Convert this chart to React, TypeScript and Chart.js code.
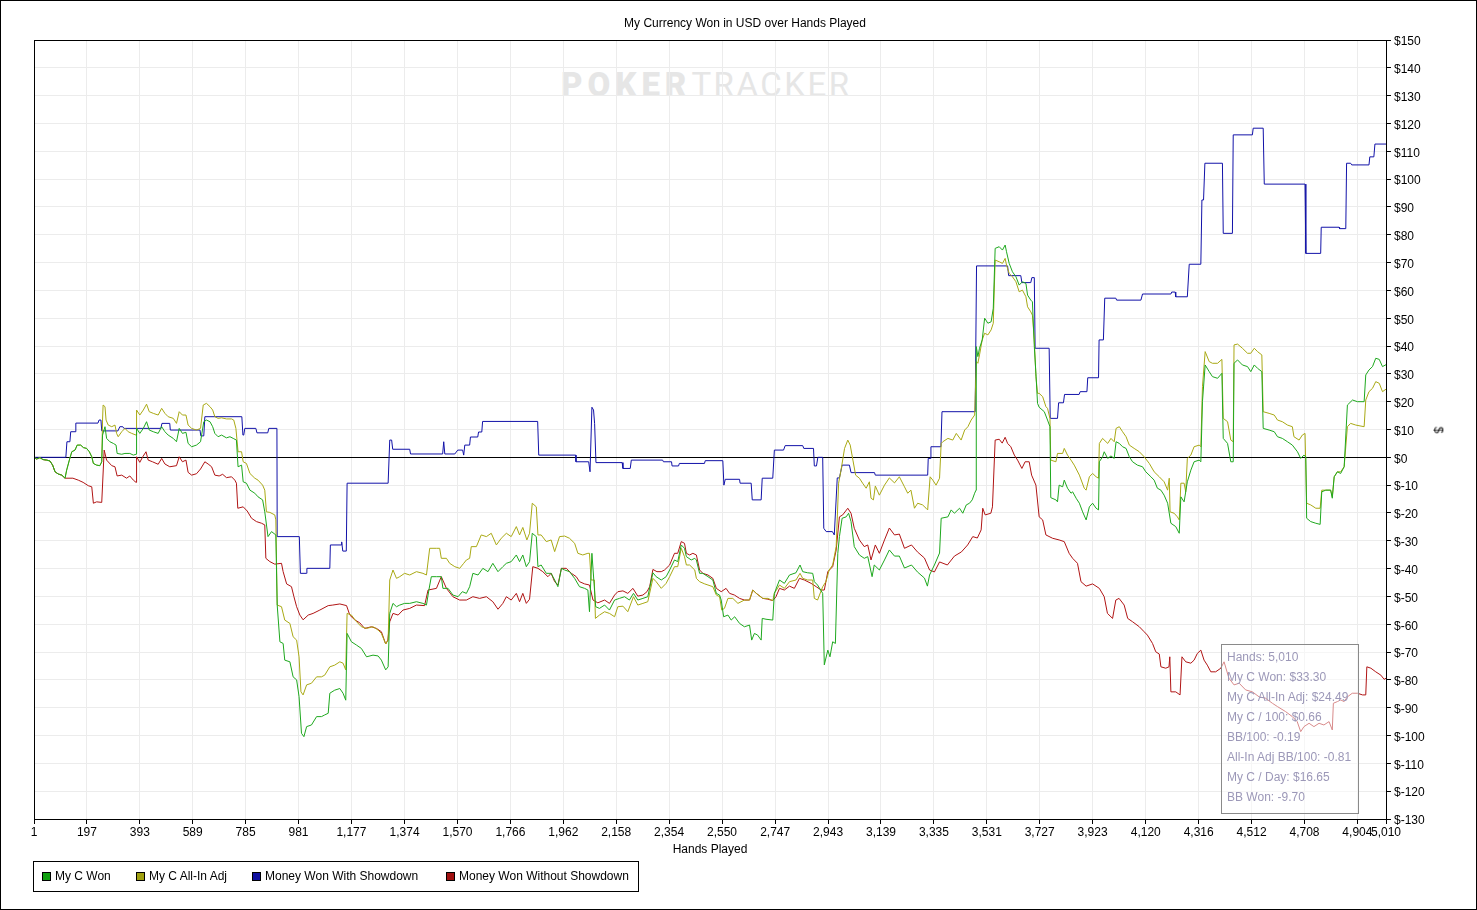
import { useEffect, useRef } from "react"
import { Chart, registerables } from "chart.js"

Chart.register(...registerables)

// hand numbers shown on the x axis
const handTicks = [1, 197, 393, 589, 785, 981, 1177, 1374, 1570, 1766, 1962, 2158, 2354, 2550, 2747, 2943, 3139, 3335, 3531, 3727, 3923, 4120, 4316, 4512, 4708, 4904, 5010]
const dollarMin = -130
const dollarMax = 150
const dollarStep = 10

// [hand, dollars]
const myCWon: [number, number][] = [
  [1, 0], [11, -0.6], [23, -0.1], [34, -0.8], [48, -1], [60, -1.3], [70, -2.8], [79, -5.2], [91, -6], [104, -6.4], [116, -7.5], [122, -4.6], [132, -1], [141, 2], [153, 2.6], [161, 4.4], [174, 4.4], [184, 3.5], [196, 3.2], [206, 2], [215, 0.2], [221, -2.2], [233, -2.8], [245, -3], [252, -1.6],
  [255, 8], [264, 11], [270, 6.8], [282, 5.6], [295, 5], [305, 4.4], [309, 1.4], [326, 1.1], [338, 1.4], [356, 1.4], [369, 0.8], [379, 1.1], [381, 10.4], [393, 8.6], [406, 10.4], [418, 12.8], [428, 9.8], [443, 9.2], [461, 8.6], [474, 11], [486, 9.2], [498, 8], [517, 6.8], [529, 5.6], [539, 10.4], [551, 8.6], [564, 9], [572, 5], [585, 3.8], [603, 4.4], [618, 5.6], [630, 12.8], [640, 13.4], [653, 12.8], [663, 11], [671, 8.6], [683, 7.4], [696, 8], [714, 7], [727, 7.4], [739, 6.8], [751, 6.2],
  [757, -3.4], [770, -2.8], [776, -8.8], [788, -9.3], [801, -11.8], [819, -12.9], [831, -14.2], [848, -15.3], [856, -19.6], [868, -28.5], [881, -26.7], [897, -27.9], [902, -53.1], [912, -66.3], [924, -66.9], [930, -72.9], [949, -73.5], [961, -78.9], [974, -80], [983, -86], [992, -99.2], [1001, -100.4], [1011, -96.8], [1029, -96.2], [1048, -93.2], [1066, -93.2], [1078, -92.6], [1091, -92], [1097, -84.8], [1115, -83.7], [1134, -83.1], [1146, -84.8], [1156, -87.3],
  [1161, -63.3], [1177, -66.3], [1196, -67.5], [1214, -68.7], [1233, -71.7], [1257, -71.1], [1276, -71.4], [1288, -72.9], [1304, -76.4], [1313, -75.3], [1319, -56.1], [1331, -52.5], [1344, -53.7], [1356, -53.1], [1374, -52.5], [1393, -52.5], [1418, -51.9], [1442, -52.5], [1455, -53.1], [1464, -47.7], [1473, -42.9], [1492, -42.9], [1510, -42.9], [1516, -47.1], [1535, -47.1], [1553, -49.5], [1572, -50.1], [1588, -48.3], [1603, -48.9], [1615, -46.5], [1627, -41.7], [1646, -42.3], [1664, -39.9], [1683, -41.1], [1701, -38.1], [1720, -41.1], [1738, -39.3], [1751, -38.1], [1769, -37.5], [1788, -35.1], [1800, -37.5], [1812, -35.1], [1825, -39.3], [1837, -37.5], [1847, -27.3], [1862, -28.5], [1868, -39.3], [1880, -38.7], [1899, -41.7], [1917, -41.7], [1930, -44.1], [1942, -46.5], [1955, -39.9], [1967, -40.5], [1985, -41.1], [2004, -43.5], [2022, -46.5], [2041, -47.1], [2053, -47.7],
  [2059, -55.5], [2068, -34.5], [2082, -53.7], [2096, -54.3], [2115, -53.1], [2133, -54.9], [2152, -51.3], [2170, -50.7], [2189, -50.1], [2207, -51.3], [2222, -48.9], [2238, -51.3], [2257, -50.7], [2275, -50.1], [2294, -41.5], [2306, -42.9], [2325, -44.1], [2343, -42.9], [2356, -40.5], [2374, -36.9], [2386, -37.5], [2399, -31.5], [2411, -32.7], [2418, -35.7], [2436, -36.9], [2449, -36.3], [2455, -36.9], [2467, -41.7], [2479, -41.7], [2498, -42.9], [2516, -44.1], [2529, -48.9], [2541, -49.5], [2547, -51.3], [2556, -57.3], [2572, -56.7], [2584, -58.5], [2597, -57.3], [2615, -59.7], [2633, -60.9], [2652, -60.3], [2660, -65.7], [2670, -63.3], [2682, -63.9], [2695, -65.7], [2699, -57.9], [2713, -58.2], [2738, -58.5], [2744, -48.9], [2763, -44.1], [2781, -45.3], [2800, -42.3], [2824, -41.5], [2839, -38.7], [2849, -41.1], [2867, -41.5], [2886, -41.7], [2892, -44.7], [2904, -45.9], [2923, -48.9],
  [2929, -74.6], [2942, -69.3], [2950, -71.7], [2960, -66.3], [2970, -66.9], [2979, -34.5], [2985, -28.5], [2995, -21.9], [3010, -21.4], [3019, -20.1], [3028, -23.1], [3040, -32.1], [3059, -35.1], [3077, -36.3], [3090, -35.7], [3106, -42.9], [3114, -38.7], [3133, -40.5], [3152, -36.9], [3170, -33.3], [3189, -35.5], [3207, -35.5], [3226, -39.8], [3252, -38.7], [3274, -41.2], [3300, -43.4], [3311, -46.3], [3319, -42.3], [3337, -38.7], [3356, -34.4], [3362, -21.9], [3387, -21.4], [3399, -18.9], [3411, -20.1], [3430, -18.3], [3442, -20.1], [3455, -17.1], [3467, -16.5], [3477, -15.3], [3486, -12.9], [3491, -11.8],
  [3492, 39.8], [3498, 36.2], [3504, 39.2], [3514, 42.2], [3523, 50], [3535, 48.2], [3547, 48.7], [3555, 53.6], [3562, 75.1], [3577, 75.7], [3589, 74.5], [3599, 76.3], [3604, 73.9], [3614, 69.7], [3626, 66.7], [3639, 64.9], [3651, 61.9], [3663, 63.1], [3676, 62.5], [3682, 58.3], [3694, 56.5], [3700, 55.9], [3707, 39.8], [3713, 30.2], [3719, 19.4], [3725, 18], [3744, 16.4], [3756, 13.4], [3765, 11], [3768, -14.5], [3787, -15.3], [3793, -16], [3799, -10], [3812, -10.6], [3818, -8.2], [3830, -11.1], [3843, -12.9], [3849, -12.4], [3862, -14.7], [3874, -16.5], [3886, -19.6], [3899, -22.5], [3911, -17.8], [3923, -16.5], [3936, -18.3], [3945, -18.9],
  [3948, -1.6], [3960, 0.2], [3966, 2], [3979, -0.4], [3991, 0.5], [4003, -0.4], [4010, 5.6], [4022, 5], [4034, 3.8], [4047, 3.2], [4059, 0.2], [4071, -1.6], [4089, -2.8], [4108, -3.4], [4120, -5.2], [4139, -7], [4151, -8.2], [4163, -11.1], [4176, -11.8], [4188, -13.6], [4201, -16.5], [4213, -23.7], [4231, -24.9], [4244, -27.3], [4250, -14.2], [4262, -16], [4274, -8.8], [4287, -4.6], [4299, -1.6], [4318, -1], [4324, -1.6], [4330, 20], [4340, 33.2], [4355, 30.8], [4367, 29], [4386, 28.4], [4402, 30.2], [4407, 6.8], [4423, 5], [4435, -1.6], [4444, -1.6], [4447, 33.8], [4460, 35], [4478, 33.2], [4497, 32.6], [4509, 30.8], [4522, 33.2], [4534, 32], [4550, 30.8],
  [4555, 10.4], [4577, 9.8], [4596, 9.2], [4608, 7.4], [4626, 6.8], [4645, 5.6], [4663, 4.4], [4682, 2], [4694, -0.4], [4706, 0.8], [4713, 0.2], [4716, -21.9], [4731, -23.1], [4750, -23.7], [4766, -24.1], [4772, -12.4], [4787, -11.8], [4805, -11.8], [4811, -14.7], [4818, -7], [4830, -5.2], [4842, -5.8], [4855, -3.4], [4867, 18.8], [4886, 20.6], [4904, 20], [4929, 20], [4935, 29.6], [4947, 31.4], [4960, 32.6], [4972, 35.6], [4985, 35.2], [4997, 32.6], [5010, 33.3],
]

const myCAllInAdj: [number, number][] = [
  [1, 0], [11, -0.6], [23, -0.1], [34, -0.8], [48, -1], [60, -1.3], [70, -2.8], [79, -5.2], [91, -6], [104, -6.4], [116, -7.5], [122, -4.6], [132, -1], [141, 2], [153, 2.6], [161, 4.4], [174, 4.4], [184, 3.5], [196, 3.2], [206, 2], [215, 0.2], [221, -2.2], [233, -2.8], [245, -3], [252, -1.6],
  [255, 13.4], [257, 18.8], [264, 18.2], [268, 13.4], [276, 11.6], [289, 11], [301, 11.6], [307, 8.6], [313, 7.4], [326, 9.2], [338, 10.4], [350, 9.2], [363, 8.6], [379, 8], [381, 17], [393, 15.2], [406, 17], [418, 19.1], [428, 16.4], [443, 15.8], [461, 15.2], [474, 17.6], [486, 15.8], [498, 14.6], [517, 14], [529, 12.2], [539, 16.4], [551, 15.2], [564, 15.2], [572, 11.6], [585, 10.4], [603, 9.8], [618, 10.4], [628, 18.8], [640, 19.4], [653, 18.2], [663, 17], [671, 14.6], [683, 14], [696, 14.2], [714, 13.8], [733, 13.8], [741, 13.4], [749, 10.4],
  [757, 2], [770, 2], [776, -1.6], [788, -2.2], [801, -5.8], [819, -7.5], [831, -8.2], [848, -10], [856, -11.8], [862, -19.6], [875, -19.8], [893, -20.7], [897, -22.5], [902, -53.1], [918, -53.7], [930, -58.5], [949, -59.7], [961, -64.5], [974, -65.7], [983, -71.7], [990, -84.3], [998, -85.4], [1011, -81.8], [1029, -81.2], [1048, -78.9], [1066, -78.9], [1078, -78.3], [1097, -75.3], [1115, -74.7], [1134, -73.5], [1146, -74], [1156, -76.4],
  [1161, -56.1], [1177, -56.7], [1196, -59.1], [1214, -60.9], [1233, -61.5], [1257, -60.9], [1276, -62.1], [1288, -63.3], [1304, -67.1], [1313, -65.7], [1319, -44.1], [1331, -40.5], [1344, -43.5], [1356, -42.9], [1374, -41.7], [1393, -42.3], [1418, -41.1], [1442, -41.7], [1455, -42.3], [1467, -32.7], [1492, -32.7], [1504, -32.7], [1510, -36.3], [1529, -36.3], [1541, -38.1], [1560, -39.3], [1578, -39.9], [1593, -38.1], [1603, -36.9], [1615, -36.3], [1621, -32.1], [1640, -32.1], [1658, -27.9], [1677, -28.5], [1695, -27.3], [1714, -31.5], [1732, -29.1], [1751, -27.3], [1769, -28.5], [1788, -24.9], [1800, -27.9], [1812, -25.2], [1827, -29.7], [1837, -27.3], [1847, -16.5], [1862, -17.8], [1868, -27.9], [1880, -27.9], [1899, -30.3], [1917, -29.7], [1930, -33.9], [1948, -28.5], [1967, -28.3], [1985, -29.1], [2004, -30.9], [2016, -34.5], [2034, -35.1], [2053, -34.5], [2059, -34.5],
  [2065, -44.1], [2077, -44.1], [2081, -57.9], [2096, -56.7], [2115, -55.5], [2133, -56.1], [2152, -57.3], [2164, -53.7], [2183, -53.5], [2201, -55.5], [2222, -50.1], [2238, -53.1], [2257, -52.5], [2275, -51.9], [2294, -43.5], [2306, -44.7], [2325, -47.1], [2343, -45.3], [2356, -42.9], [2374, -39.3], [2386, -39.3], [2399, -32.7], [2411, -35.7], [2418, -38.7], [2430, -38.7], [2449, -40.5], [2455, -43.5], [2467, -44.7], [2486, -45.5], [2498, -45.9], [2516, -46.5], [2529, -49.5], [2541, -50.1], [2549, -54.9], [2559, -54.3], [2572, -50.7], [2590, -50.7], [2609, -52.5], [2633, -51.3], [2652, -51.3], [2664, -47.7], [2677, -48.9], [2701, -50.7], [2720, -50.7], [2738, -51.5], [2744, -48.9], [2763, -45.9], [2781, -47.1], [2800, -44.7], [2824, -44.1], [2839, -41.7], [2849, -43.5], [2867, -44.1], [2886, -44.1], [2892, -50.7], [2904, -51.3], [2923, -46.5],
  [2935, -44.7], [2947, -40.5], [2960, -38.7], [2973, -32.1], [2982, -9.3], [2991, -4.6], [3004, 3.2], [3016, 6.2], [3025, 4.4], [3035, -1], [3045, -6.4], [3059, -7.5], [3071, -9.3], [3084, -11.1], [3096, -8.8], [3102, -14.7], [3111, -15.3], [3118, -10.3], [3133, -13.6], [3152, -10], [3170, -7.4], [3189, -9.2], [3207, -7], [3226, -10.6], [3238, -12.9], [3250, -11.8], [3263, -18.3], [3275, -16.5], [3293, -17.1], [3306, -18.3], [3312, -18.9], [3321, -7], [3331, -8.2], [3343, -10], [3356, -7.5], [3362, 5], [3368, 5.6], [3387, 6.8], [3405, 6.2], [3418, 8.6], [3436, 6.2], [3449, 9.8], [3461, 11], [3473, 13.4], [3486, 15.2],
  [3492, 34.4], [3498, 33.8], [3504, 36.8], [3514, 42.2], [3523, 44.6], [3535, 44], [3547, 45.8], [3555, 48.2], [3562, 70.9], [3577, 70.3], [3589, 69.7], [3599, 71.5], [3604, 69.1], [3614, 66.1], [3626, 64.9], [3639, 63.1], [3651, 59.5], [3663, 60.1], [3676, 57.7], [3682, 54.1], [3694, 52.3], [3700, 51.1], [3707, 42.2], [3713, 29], [3719, 23], [3725, 23], [3738, 21.8], [3750, 18.2], [3756, 17.6], [3765, 14], [3768, -1], [3787, -1.6], [3793, 1.4], [3812, 1.4], [3818, 3.2], [3830, 0.8], [3843, -1], [3855, -2.8], [3874, -6.4], [3892, -11.1], [3899, -11.8], [3911, -7], [3923, -5.8], [3936, -7], [3945, -7.5],
  [3948, 5], [3960, 6.8], [3979, 5], [3991, 6.8], [4003, 5.6], [4010, 10.4], [4022, 11], [4034, 9.2], [4047, 7.4], [4059, 4.4], [4077, 3.2], [4096, 2], [4114, 0.2], [4133, -2.2], [4151, -5.2], [4170, -7], [4188, -8.8], [4201, -11.8], [4207, -7.5], [4210, -19.6], [4225, -20.1], [4237, -21.4], [4244, -22.5], [4250, -9.3], [4262, -9.3], [4268, -12.4], [4274, -0.4], [4287, 0.8], [4299, 3.8], [4318, 4.4], [4324, 3.8], [4330, 25.4], [4340, 38], [4355, 34.4], [4367, 33.8], [4386, 33.8], [4402, 35.2], [4407, 14], [4423, 12.8], [4435, 6.2], [4444, 5.6], [4447, 40.4], [4460, 40.7], [4478, 39.2], [4497, 37.4], [4509, 37.4], [4522, 39.2], [4534, 38], [4550, 36.8],
  [4555, 16.4], [4577, 15.8], [4596, 15.2], [4608, 13.4], [4626, 12.8], [4645, 11.6], [4663, 11], [4669, 7.4], [4688, 6.2], [4700, 8], [4710, 8.6], [4716, -16.5], [4731, -17.1], [4750, -18.3], [4766, -18.3], [4772, -11.8], [4787, -11.8], [4805, -11.8], [4811, -14.2], [4818, -7], [4830, -5.2], [4842, -5.2], [4855, -3.4], [4867, 11], [4879, 12.2], [4898, 11.6], [4929, 11], [4935, 20.6], [4947, 23.6], [4960, 24.8], [4972, 27.2], [4985, 26.6], [4997, 23.6], [5010, 24.49],
]

const wonWithShowdown: [number, number][] = [
  [1, 0], [119, 0], [123, 5.6], [134, 5.6], [137, 9.2], [153, 9.2], [156, 12.3], [238, 12.3], [242, 13.4], [249, 13.4], [252, 9.5], [312, 9.5], [319, 11], [330, 11], [334, 10.4], [471, 10.4], [475, 12.2], [504, 12.2], [506, 9.8], [616, 9.8], [619, 7.7], [630, 7.7], [634, 14.6], [771, 14.6], [775, 8], [778, 8], [782, 10.4], [823, 10.4], [827, 8.8], [867, 8.8], [871, 10.4], [901, 10.4],
  [902, -28.5], [984, -28.5], [988, -41.7], [1010, -41.7], [1012, -39.9], [1097, -39.9], [1099, -31.5], [1139, -31.5], [1141, -30.4], [1145, -33.7], [1158, -33.7], [1161, -9.3], [1313, -9.3], [1319, 6.2], [1326, 6.2], [1330, 2.9], [1393, 2.9], [1396, 1.2], [1515, 1.2], [1519, 5.6], [1523, 1.2], [1560, 1.2], [1571, 2.6], [1589, 2.6], [1593, 0.8], [1597, 4.4], [1615, 4.4], [1618, 7.3], [1645, 7.3], [1648, 9.1], [1660, 9.1], [1663, 12.9], [1867, 12.9], [1871, 0.8], [2008, 0.8],
  [2009, -1.6], [2056, -1.6], [2061, -5.2], [2068, 18], [2074, 17], [2078, 12.1], [2083, -1.9], [2180, -1.9], [2183, -4], [2210, -4], [2214, -1], [2330, -1], [2333, -1.6], [2363, -1.6], [2365, -3.1], [2389, -3.1], [2392, -2.2], [2485, -2.2], [2488, -1.2], [2553, -1.2], [2557, -10], [2562, -7.9], [2615, -7.9], [2617, -9.3], [2658, -9.3], [2662, -15.3], [2695, -15.3], [2699, -7.5], [2738, -7.5], [2744, 2.6], [2778, 2.6], [2784, 4.2], [2849, 4.2], [2853, 3.2], [2889, 3.2], [2892, -3.1], [2900, -3.1], [2905, 0], [2923, 0],
  [2927, -25.5], [2936, -26.7], [2959, -26.7], [2966, -27.9], [2977, -7.4], [2985, -7.4], [2995, -2.8], [3022, -2.8], [3028, -5.5], [3115, -5.5], [3118, -6.4], [3312, -6.4], [3314, -0.4], [3321, -0.4], [3324, 3.8], [3361, 3.8], [3365, 16.4], [3488, 16.4], [3493, 68.8], [3608, 68.8], [3612, 65.3], [3657, 65.3], [3661, 62.8], [3694, 62.8], [3698, 64.6], [3707, 64.6], [3710, 39.2], [3762, 39.2], [3766, 14], [3793, 14], [3797, 19.6], [3815, 19.6], [3819, 22.6], [3873, 22.6], [3877, 23.6], [3902, 23.6], [3905, 28.6], [3945, 28.6], [3947, 42.2], [3963, 42.2], [3968, 57.2], [4009, 57.2], [4012, 56.5], [4102, 56.5], [4108, 58.7], [4213, 58.7], [4216, 59.4], [4229, 59.4], [4231, 57.7], [4274, 57.7],
  [4281, 69.4], [4324, 69.4], [4328, 92.5], [4334, 92.5], [4339, 105.7], [4404, 105.7], [4407, 80.5], [4441, 80.5], [4444, 115.9], [4515, 115.9], [4518, 118.3], [4555, 118.3], [4559, 98.2], [4710, 98.2], [4713, 73.3], [4768, 73.3], [4770, 82.7], [4836, 82.7], [4838, 82.2], [4861, 82.2], [4864, 105.7], [4879, 105.7], [4883, 105.1], [4947, 105.1], [4950, 108], [4965, 108], [4969, 112.6], [5010, 112.6],
]

const wonWithoutShowdown: [number, number][] = [
  [1, 0], [11, -0.6], [23, -0.1], [34, -0.8], [48, -1], [60, -1.3], [70, -2.8], [79, -5.2], [91, -6], [104, -6.4], [116, -7.5], [145, -7.5], [165, -8.2], [183, -9], [202, -10.2], [215, -10.6], [221, -16.5], [233, -16], [252, -16.2], [261, 2.6], [270, -1], [289, -3], [301, -3.4], [309, -6.7], [326, -6.4], [344, -7.5], [356, -6.7], [369, -8.2], [379, -9], [381, 0.2], [393, -1.8], [404, 0.2], [416, 2], [424, -1], [440, -1.6], [461, -2.5], [474, -0.4], [486, -2.4], [504, -3.4], [529, -3], [539, 0.2], [551, -1.6], [564, -1], [572, -5.4], [585, -6.4], [603, -5.9], [618, -4.2], [634, -1.6], [646, -2.4], [659, -3.4], [671, -6.4], [687, -6.7], [700, -6.1], [714, -7.3], [733, -7], [745, -8.2], [751, -9.3],
  [756, -18.3], [776, -17.8], [791, -19.3], [807, -21.9], [825, -23.1], [844, -23.7], [856, -24.3], [860, -36.3], [875, -37.5], [893, -38.4], [918, -38.1], [924, -41.1], [937, -45.5], [955, -46.5], [964, -50.1], [974, -53.7], [986, -56.7], [998, -58.4], [1017, -56.7], [1035, -56.1], [1060, -54.9], [1091, -53.3], [1108, -53.1], [1134, -52.7], [1159, -53.3], [1171, -56.7], [1189, -58.4], [1208, -59.5], [1226, -61.5], [1251, -60.9], [1270, -61.5], [1288, -62.7], [1304, -67.1], [1312, -65.7], [1319, -59.1], [1331, -56.1], [1350, -56.7], [1368, -54.9], [1393, -54.3], [1418, -53.1], [1448, -53.3],
  [1461, -47.7], [1492, -47.1], [1510, -42.9], [1529, -47.1], [1553, -50.1], [1578, -51.3], [1603, -51.3], [1627, -50.1], [1652, -50.7], [1677, -50.1], [1701, -51.9], [1720, -54.6], [1738, -52.5], [1751, -50.1], [1769, -51.3], [1788, -48.9], [1800, -51.9], [1812, -48.9], [1825, -52.5], [1837, -51], [1849, -39.3], [1868, -39.9], [1886, -41.1], [1905, -42.9], [1917, -41.7], [1930, -44.7], [1942, -45.9], [1955, -39.9], [1973, -39.9], [1992, -41.7], [2010, -42.9], [2022, -44.7], [2041, -45.5], [2059, -45.9], [2072, -51.3], [2090, -52.3], [2115, -51.3], [2133, -52.5], [2152, -49.5], [2164, -48.3], [2183, -48], [2201, -48.9], [2220, -47.1], [2238, -49.9], [2257, -49.5], [2272, -48.3], [2282, -46.5],
  [2294, -40.3], [2309, -41.1], [2325, -41.1], [2337, -40.5], [2356, -38.7], [2374, -34.5], [2386, -34.5], [2399, -30.3], [2411, -30.9], [2418, -34.5], [2430, -35.1], [2442, -34.5], [2455, -35.1], [2467, -40.5], [2479, -41.7], [2498, -42.3], [2516, -43.5], [2529, -47.1], [2547, -48.3], [2565, -47.1], [2578, -48.9], [2596, -49.5], [2615, -50.7], [2633, -51.3], [2652, -51.3], [2664, -47.7], [2677, -48.9], [2701, -50.7], [2720, -51], [2738, -51.5], [2750, -50.1], [2763, -47.1], [2781, -47.7], [2800, -46.3], [2818, -47.1], [2837, -43.5], [2855, -44.1], [2880, -45.3], [2899, -46.5], [2917, -47.7], [2929, -47.7],
  [2942, -41.1], [2960, -39.3], [2973, -33.3], [2985, -21.4], [2997, -20.7], [3016, -18.3], [3028, -20.1], [3040, -25.5], [3059, -29.7], [3077, -32.1], [3090, -31.5], [3102, -36.9], [3118, -31.5], [3133, -34.5], [3152, -29.7], [3170, -25.4], [3189, -27.9], [3207, -27.6], [3226, -32.7], [3252, -31.5], [3274, -34], [3300, -36.2], [3319, -40.5], [3337, -41.2], [3356, -37.6], [3385, -38.7], [3411, -35.5], [3437, -34], [3460, -31.5], [3479, -28.5], [3496, -29], [3510, -26.1], [3516, -18.3], [3525, -20.7], [3546, -20.1], [3552, -17.8],
  [3562, 6.2], [3577, 6.5], [3588, 5.1], [3599, 7.2], [3608, 5], [3620, 3.8], [3633, 0.8], [3645, -1], [3661, -4], [3673, -1.6], [3688, -1.6], [3697, -6.4], [3713, -10], [3725, -21.4], [3738, -22.5], [3750, -27.9], [3775, -29.1], [3799, -29.7], [3818, -30.3], [3836, -34.5], [3849, -36.3], [3867, -38.1], [3880, -44.7], [3899, -46.3], [3923, -45.5], [3948, -47.1], [3966, -50.1], [3978, -56.1], [3997, -57.9], [4009, -51.3], [4021, -50.7], [4040, -53.1], [4053, -57.9], [4071, -59.1], [4096, -60.9], [4114, -62.7], [4126, -63.9], [4145, -66.9], [4157, -69.9], [4170, -70.7], [4176, -75.3], [4194, -75.8], [4206, -75.3], [4209, -71.7], [4213, -84.3], [4231, -84.3], [4247, -85.4],
  [4254, -71.7], [4268, -73.5], [4287, -74], [4299, -72.9], [4311, -70.5], [4324, -69.3], [4336, -72.9], [4348, -74.7], [4361, -77.1], [4379, -77.1], [4398, -75.8], [4410, -73.5], [4428, -79.4], [4447, -81.8], [4466, -81.2], [4490, -83.6], [4515, -84.3], [4540, -86.1], [4564, -86.6], [4589, -88.4], [4608, -89.6], [4638, -91.4], [4663, -93.2], [4681, -95], [4694, -98.6], [4706, -96.8], [4725, -95.6], [4743, -96.8], [4762, -95.6], [4780, -96.2], [4799, -95], [4811, -98], [4815, -88.4], [4830, -87.8], [4842, -87.2], [4855, -87.8], [4867, -86.1], [4885, -84.8], [4904, -84.8], [4923, -85.4], [4935, -85.4], [4939, -75.3], [4954, -75.8], [4972, -77.1], [4991, -78.3], [5003, -79.8], [5010, -79.4],
]

const seriesNames = ["My C Won", "My C All-In Adj", "Money Won With Showdown", "Money Won Without Showdown"]
const seriesData = [myCWon, myCAllInAdj, wonWithShowdown, wonWithoutShowdown]
const lineColors = ["#1ea81e", "#a9a914", "#1212a8", "#b01414"]
const legendColors = ["#10a010", "#a0a010", "#1010a0", "#a01010"]

const summaryLines = [
  "Hands: 5,010",
  "My C Won: $33.30",
  "My C All-In Adj: $24.49",
  "My C / 100: $0.66",
  "BB/100: -0.19",
  "All-In Adj BB/100: -0.81",
  "My C / Day: $16.65",
  "BB Won: -9.70",
]

const FONT = '"Liberation Sans", Arial, sans-serif'
const WIDTH = 1477
const HEIGHT = 910

// black frame around the plotting area (top and left sides have no axis)
const plotFrame = {
  id: "plotFrame",
  afterDraw(chart: Chart) {
    const { ctx, chartArea } = chart
    ctx.save()
    ctx.strokeStyle = "#000"
    ctx.lineWidth = 1
    ctx.strokeRect(
      Math.round(chartArea.left) + 0.5,
      Math.round(chartArea.top) + 0.5,
      Math.round(chartArea.right - chartArea.left),
      Math.round(chartArea.bottom - chartArea.top)
    )
    ctx.restore()
  },
}

function HandsChart() {
  const canvasRef = useRef<HTMLCanvasElement>(null)
  const chartRef = useRef<Chart | null>(null)

  useEffect(() => {
    if (!canvasRef.current) return
    if (chartRef.current) chartRef.current.destroy()

    chartRef.current = new Chart(canvasRef.current, {
      type: "line",
      data: {
        datasets: seriesData.map((points, i) => ({
          label: seriesNames[i],
          data: points.map(([x, y]) => ({ x, y })),
          borderColor: lineColors[i],
          borderWidth: 1,
          pointRadius: 0,
          tension: 0,
          fill: false,
        })),
      },
      options: {
        responsive: false,
        animation: false,
        events: [],
        layout: { padding: { left: 34, top: 40, right: 0, bottom: 0 } },
        plugins: {
          legend: { display: false },
          title: { display: false },
          tooltip: { enabled: false },
        },
        scales: {
          x: {
            type: "linear",
            position: "bottom",
            min: 1,
            max: 5010,
            afterBuildTicks: (scale: any) => {
              scale.ticks = handTicks.map((value) => ({ value }))
            },
            afterFit: (scale: any) => {
              scale.height = HEIGHT - 819
            },
            ticks: {
              autoSkip: false,
              maxRotation: 0,
              padding: 1,
              color: "#000",
              font: { family: FONT, size: 12 },
              callback: (v: any) => Number(v).toLocaleString("en-US"),
            },
            grid: { color: "#ececec", tickColor: "#000", tickLength: 5 },
            border: { color: "#000" },
          },
          y: {
            type: "linear",
            position: "right",
            min: dollarMin,
            max: dollarMax,
            afterFit: (scale: any) => {
              scale.width = WIDTH - 1386
            },
            ticks: {
              stepSize: dollarStep,
              padding: 3,
              labelOffset: 2,
              color: "#000",
              font: { family: FONT, size: 12 },
              callback: (v: any) => "$" + v,
            },
            grid: {
              color: (c: any) => (c.tick && c.tick.value === 0 ? "#000" : "#ececec"),
              tickColor: "#000",
              tickLength: 5,
            },
            border: { color: "#000" },
          },
        },
      },
      plugins: [plotFrame],
    })

    return () => {
      if (chartRef.current) {
        chartRef.current.destroy()
        chartRef.current = null
      }
    }
  }, [])

  return <canvas ref={canvasRef} width={WIDTH} height={HEIGHT} style={{ position: "absolute", left: 0, top: 0, display: "block" }} />
}

export default function App() {
  useEffect(() => {
    document.body.style.margin = "0"
  }, [])

  const text = { position: "absolute" as const, fontFamily: FONT, fontSize: 12, color: "#000", whiteSpace: "nowrap" as const, lineHeight: "14px" }

  return (
    <div style={{ position: "relative", width: WIDTH, height: HEIGHT, background: "#fff", overflow: "hidden" }}>
      {/* watermark sits under the canvas */}
      <div style={{ position: "absolute", left: 561, top: 68, fontFamily: "Roboto, 'Open Sans', sans-serif", fontSize: 33, lineHeight: "33px", color: "#e6e6e6", whiteSpace: "nowrap" }}>
        <span style={{ fontWeight: 900, letterSpacing: 5 }}>POKER</span>
        <span style={{ fontWeight: 400, letterSpacing: 2.5 }}>TRACKER</span>
      </div>

      <HandsChart />

      <div style={{ ...text, left: 545, width: 400, top: 16, textAlign: "center" }}>My Currency Won in USD over Hands Played</div>
      <div style={{ ...text, left: 610, width: 200, top: 842, textAlign: "center" }}>Hands Played</div>
      <div style={{ ...text, left: 1435, top: 423, transform: "rotate(90deg)" }}>$</div>

      {/* legend */}
      <div style={{ position: "absolute", left: 33, top: 861, width: 606, height: 31, border: "1px solid #000", boxSizing: "border-box" }} />
      {seriesNames.map((name, i) => {
        const squareX = [42, 136, 252, 446][i]
        return (
          <div key={name}>
            <div style={{ position: "absolute", left: squareX, top: 872, width: 9, height: 9, background: legendColors[i], border: "1px solid #000", boxSizing: "border-box" }} />
            <div style={{ ...text, left: squareX + 13, top: 869 }}>{name}</div>
          </div>
        )
      })}

      {/* summary box */}
      <div style={{ position: "absolute", left: 1221, top: 644, width: 138, height: 170, border: "1px solid #8a8a8a", boxSizing: "border-box", background: "rgba(255,255,255,0.5)", padding: "2px 0 0 5px" }}>
        {summaryLines.map((line) => (
          <div key={line} style={{ fontFamily: FONT, fontSize: 12, lineHeight: "20px", color: "#9c98b8", whiteSpace: "nowrap" }}>{line}</div>
        ))}
      </div>

      <div style={{ position: "absolute", left: 0, top: 0, width: WIDTH, height: HEIGHT, border: "1px solid #000", boxSizing: "border-box", pointerEvents: "none" }} />
    </div>
  )
}
